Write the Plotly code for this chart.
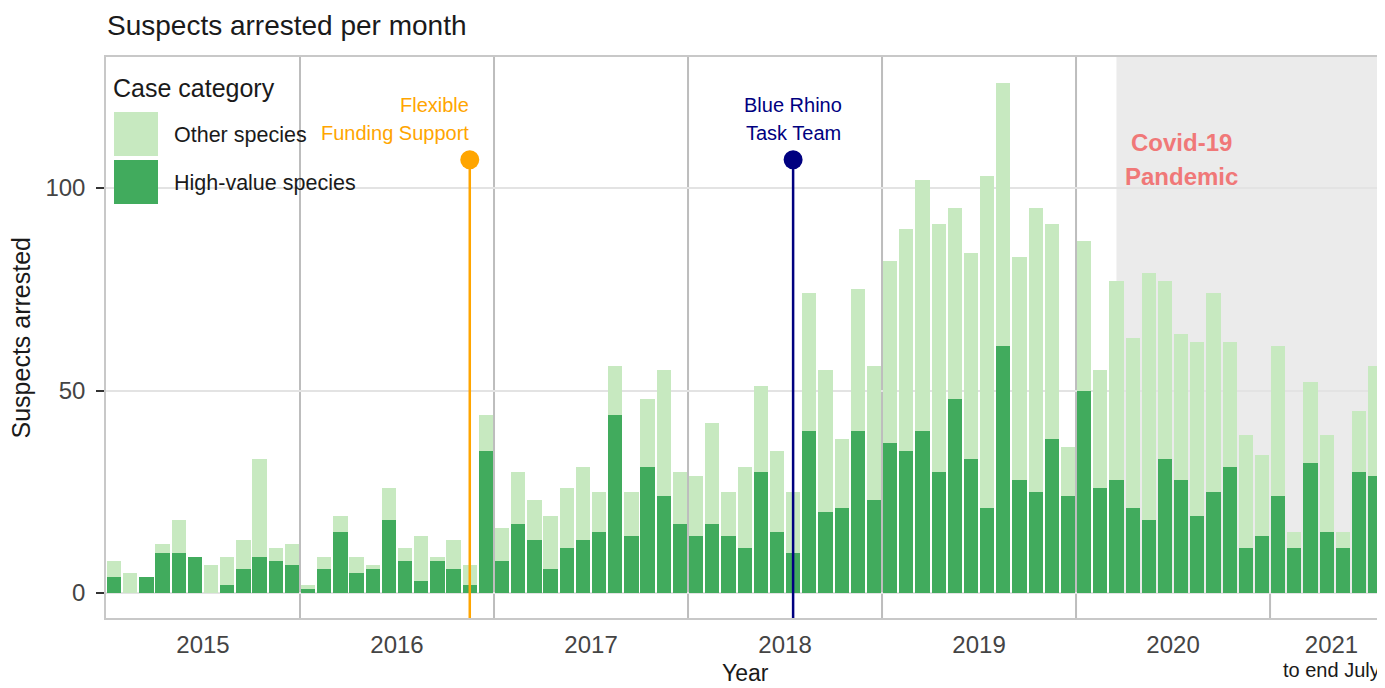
import plotly.graph_objects as go
import pandas as pd

# ---------------- data ----------------
months = [str(p) for p in pd.period_range("2015-01", "2021-07", freq="M")]

high_value = [
    4, 0, 4, 10, 10, 9, 0, 2, 6, 9, 8, 7,          # 2015
    1, 6, 15, 5, 6, 18, 8, 3, 8, 6, 2, 35,         # 2016
    8, 17, 13, 6, 11, 13, 15, 44, 14, 31, 24, 17,  # 2017
    14, 17, 14, 11, 30, 15, 10, 40, 20, 21, 40, 23,  # 2018
    37, 35, 40, 30, 48, 33, 21, 61, 28, 25, 38, 24,  # 2019
    50, 26, 28, 21, 18, 33, 28, 19, 25, 31, 11, 14,  # 2020
    24, 11, 32, 15, 11, 30, 29,                      # 2021
]
other_species = [
    4, 5, 0, 2, 8, 0, 7, 7, 7, 24, 3, 5,
    1, 3, 4, 4, 1, 8, 3, 11, 1, 7, 5, 9,
    8, 13, 10, 13, 15, 18, 10, 12, 11, 17, 31, 13,
    15, 25, 11, 20, 21, 20, 15, 34, 35, 17, 35, 33,
    45, 55, 62, 61, 47, 51, 82, 65, 55, 70, 53, 12,
    37, 29, 49, 42, 61, 44, 36, 43, 49, 31, 28, 20,
    37, 4, 20, 24, 4, 15, 27,
]
year_labels = ["2015", "2016", "2017", "2018", "2019", "2020", "2021"]

event_labels = ["Flexible<br>Funding Support", "Blue Rhino<br>Task Team"]
event_months = ["2016-11", "2018-07"]
event_heights = [107, 107]
event_colors = ["#FFA500", "#000080"]

covid_start_month = "2020-03"

# ---------------- helpers ----------------
x_pos = [i + 0.5 for i in range(len(months))]
month_index = {m: i for i, m in enumerate(months)}

Y_MIN, Y_MAX = -6.17, 132.35
X_MIN, X_MAX = 0.0, 79.11
FONT = "Liberation Sans, Arial, Helvetica, sans-serif"

# page body has an 8px margin: compensate so the plot panel lands at
# x 106..1385, y 57..618 in the 1385x688 window
OFF = 8
FIG_W, FIG_H = 1385 - OFF, 688 - OFF
M_L, M_T, M_B, M_R = 106 - OFF, 57 - OFF, 70, 0
PW, PH = 1279.0, 561.0


def px_x(px):
    return (px - 106) / PW


def px_y(py):
    return (618 - py) / PH


fig = go.Figure()

fig.add_bar(x=x_pos, y=high_value, name="High-value species",
            marker=dict(color="#41AB5D", line=dict(width=0)),
            showlegend=False)
fig.add_bar(x=x_pos, y=other_species, name="Other species",
            marker=dict(color="#C7E9C0", line=dict(width=0)),
            showlegend=False)

shapes = []
# Covid shaded period
covid_x0 = month_index[covid_start_month] + 0.5
shapes.append(dict(type="rect", xref="x", yref="y", x0=covid_x0, x1=X_MAX + 1,
                   y0=0, y1=Y_MAX, fillcolor="#EBEBEB", line=dict(width=0),
                   layer="below"))
# year boundaries
for k in range(1, len(year_labels)):
    shapes.append(dict(type="line", xref="x", yref="paper", x0=12 * k, x1=12 * k,
                       y0=0, y1=1, line=dict(color="#BDBDBD", width=2),
                       layer="below"))

annotations = []
# events (lollipops)
for j, (lab, m, h, c) in enumerate(zip(event_labels, event_months, event_heights, event_colors)):
    xe = month_index[m] + 0.5
    fig.add_scatter(x=[xe, xe], y=[Y_MIN, h], mode="lines",
                    line=dict(color=c, width=2.5), showlegend=False,
                    hoverinfo="skip")
    fig.add_scatter(x=[xe], y=[h], mode="markers",
                    marker=dict(color=c, size=19), showlegend=False)
    first = (j == 0)
    for line_txt, shift in zip(lab.split("<br>"), (55, 27)):
        annotations.append(dict(
            x=xe, y=h, xref="x", yref="y", text=line_txt, showarrow=False,
            xanchor="right" if first else "center",
            yanchor="middle", yshift=shift, xshift=1 if first else 0,
            font=dict(family=FONT, size=20, color=c)))

# Covid label
for line_txt, shift in zip(["Covid-19", "Pandemic"], (17, -17)):
    annotations.append(dict(x=66.55, y=107, xref="x", yref="y",
                            text="<b>" + line_txt + "</b>", showarrow=False,
                            xanchor="center", yanchor="middle", yshift=shift,
                            font=dict(family=FONT, size=24, color="#F07878")))

# manual legend (ggplot-style, inside the panel)
shapes.append(dict(type="rect", xref="paper", yref="paper",
                   x0=px_x(114), x1=px_x(158), y0=px_y(156), y1=px_y(112),
                   fillcolor="#C7E9C0", line=dict(width=0)))
shapes.append(dict(type="rect", xref="paper", yref="paper",
                   x0=px_x(114), x1=px_x(158), y0=px_y(204), y1=px_y(160),
                   fillcolor="#41AB5D", line=dict(width=0)))
annotations.append(dict(x=px_x(111), y=px_y(88), xref="paper", yref="paper",
                        text="Case category", showarrow=False, xanchor="left",
                        yanchor="middle", font=dict(family=FONT, size=25, color="#1a1a1a")))
annotations.append(dict(x=px_x(172), y=px_y(135), xref="paper", yref="paper",
                        text="Other species", showarrow=False, xanchor="left",
                        yanchor="middle", font=dict(family=FONT, size=21.5, color="#1a1a1a")))
annotations.append(dict(x=px_x(172), y=px_y(183), xref="paper", yref="paper",
                        text="High-value species", showarrow=False, xanchor="left",
                        yanchor="middle", font=dict(family=FONT, size=21.5, color="#1a1a1a")))

# axis titles and note
annotations.append(dict(x=0.5, y=0, xref="paper", yref="paper", text="Year",
                        showarrow=False, xanchor="center", yanchor="top", yshift=-40,
                        font=dict(family=FONT, size=23, color="#1a1a1a")))
annotations.append(dict(x=0, y=0.5, xref="paper", yref="paper",
                        text="Suspects arrested", textangle=-90, showarrow=False,
                        xanchor="center", yanchor="middle", xshift=-86,
                        font=dict(family=FONT, size=25, color="#1a1a1a")))
annotations.append(dict(x=75.8, y=0, xref="x", yref="paper", text="to end July",
                        showarrow=False, xanchor="center", yanchor="top", yshift=-39,
                        font=dict(family=FONT, size=20, color="#1a1a1a")))

year_tick_vals = [12 * k + 6 for k in range(len(year_labels) - 1)] + [75.8]

fig.update_layout(
    width=FIG_W, height=FIG_H,
    margin=dict(l=M_L, r=M_R, t=M_T, b=M_B, pad=0),
    paper_bgcolor="white", plot_bgcolor="white",
    barmode="stack", bargap=0.12,
    title=dict(text="Suspects arrested per month", x=(107 - OFF) / FIG_W, xanchor="left",
               xref="container", y=1 - (25 - OFF) / FIG_H, yanchor="middle",
               yref="container",
               font=dict(family=FONT, size=28, color="#1a1a1a")),
    xaxis=dict(range=[X_MIN, X_MAX], tickvals=year_tick_vals, ticktext=year_labels,
               showgrid=False, zeroline=False, ticks="", showline=True,
               linecolor="#C8C8C8", linewidth=1.5, mirror=True,
               tickfont=dict(family=FONT, size=24, color="#444444"),
               ticklabelstandoff=4),
    yaxis=dict(range=[Y_MIN, Y_MAX], tickvals=[0, 50, 100], showgrid=True,
               gridcolor="#E3E3E3", gridwidth=1.5, zeroline=False,
               showline=True, linecolor="#C8C8C8", linewidth=1.5,
               ticks="outside", ticklen=8, tickwidth=1.5, tickcolor="#333333",
               tickfont=dict(family=FONT, size=24, color="#444444"),
               ticklabelstandoff=6),
    shapes=shapes, annotations=annotations,
    font=dict(family=FONT),
)

fig.write_html("out.html")
